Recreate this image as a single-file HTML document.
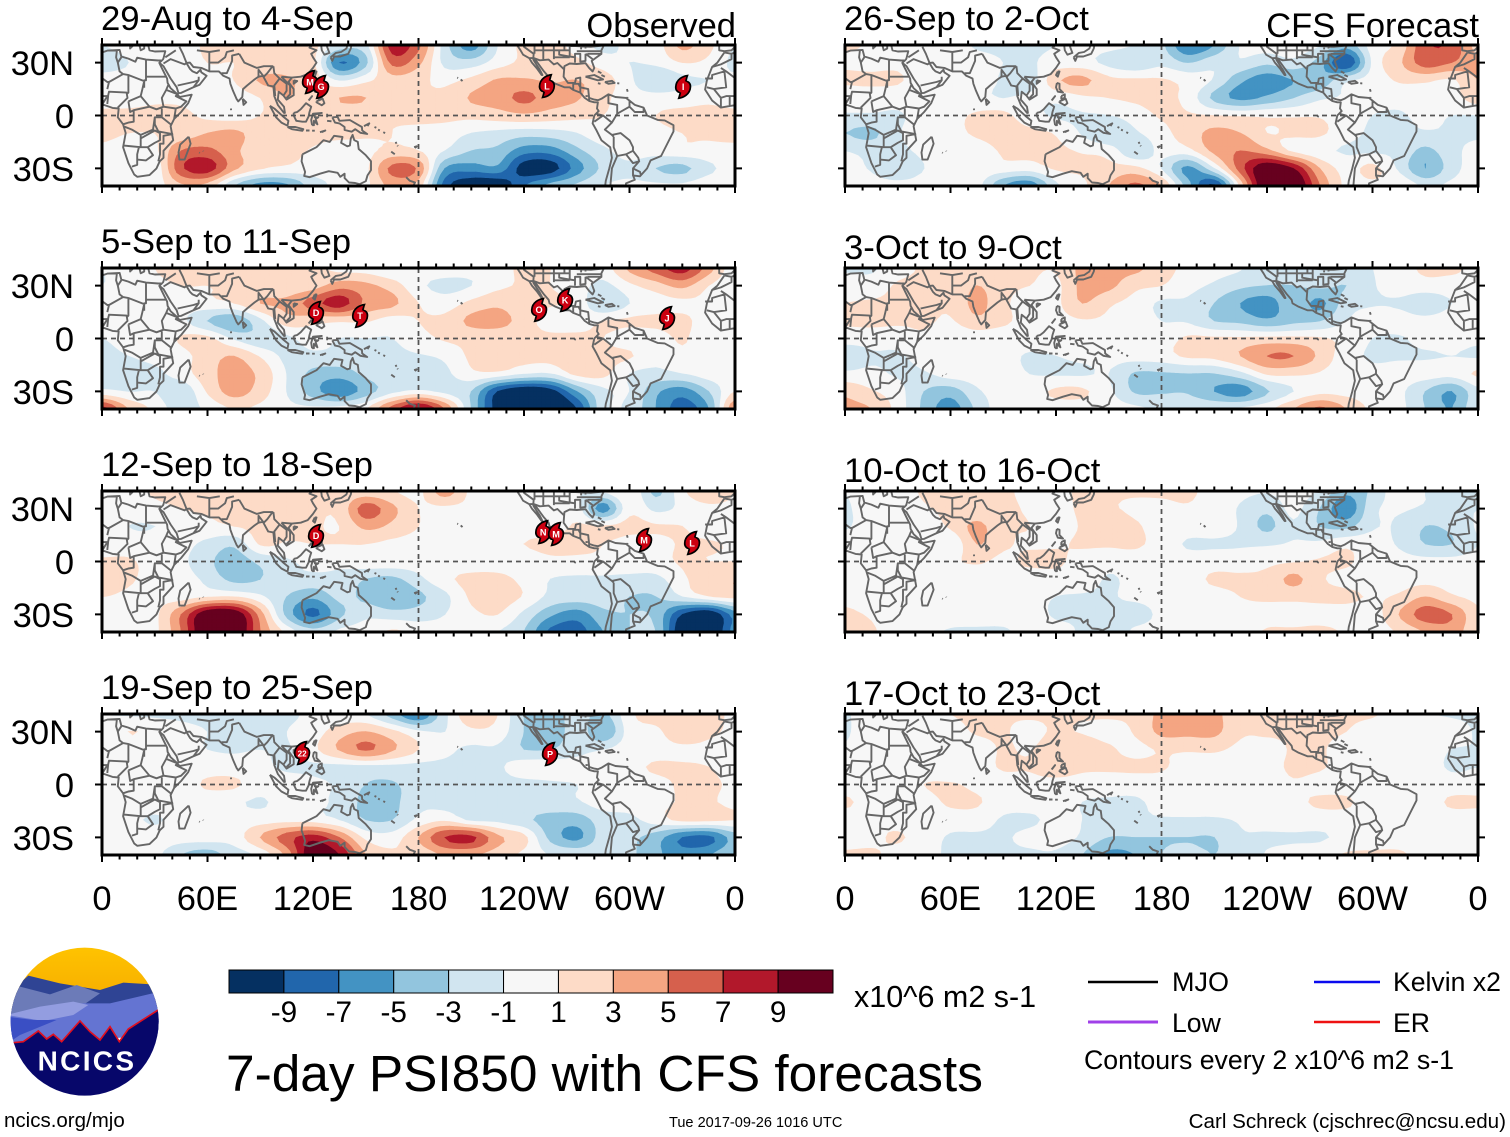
<!DOCTYPE html>
<html lang="en">
<head>
<meta charset="utf-8">
<title>7-day PSI850 with CFS forecasts</title>
<style>
html,body{margin:0;padding:0;background:#fff;}
svg{display:block;font-family:"Liberation Sans",sans-serif;}
text{fill:#000;}
</style>
</head>
<body>
<svg id="chart" xmlns="http://www.w3.org/2000/svg" width="1510" height="1137" viewBox="0 0 1510 1137">
<g id="panels"></g>

<g id="colorbar"></g>
<text x="854" y="1007" font-size="30.5">x10^6 m2 s-1</text>

<text x="226" y="1091" font-size="51.4">7-day PSI850 with CFS forecasts</text>

<g>
<line x1="1088" x2="1158" y1="982" y2="982" stroke="#000" stroke-width="2.5"/>
<text x="1172" y="991" font-size="27">MJO</text>
<line x1="1314" x2="1380" y1="982" y2="982" stroke="#0a0aee" stroke-width="2.5"/>
<text x="1393" y="991" font-size="26.6">Kelvin x2</text>
<line x1="1088" x2="1158" y1="1022" y2="1022" stroke="#a040e8" stroke-width="3"/>
<text x="1172" y="1032" font-size="26.6">Low</text>
<line x1="1314" x2="1380" y1="1022" y2="1022" stroke="#ee1111" stroke-width="2.5"/>
<text x="1393" y="1032" font-size="26.6">ER</text>
<text x="1084" y="1069" font-size="26.7">Contours every 2 x10^6 m2 s-1</text>
</g>

<text x="4" y="1127" font-size="20.5">ncics.org/mjo</text>
<text x="669" y="1127" font-size="14.55">Tue 2017-09-26 1016 UTC</text>
<text x="1506" y="1128" font-size="20.6" text-anchor="end">Carl Schreck (cjschrec@ncsu.edu)</text>

<g transform="translate(0,935) scale(0.3333)">
<defs>
<clipPath id="logoClip"><circle cx="254" cy="260" r="222"/></clipPath>
<linearGradient id="sun" x1="0" y1="0" x2="0" y2="1"><stop offset="0" stop-color="#ffc400"/><stop offset="1" stop-color="#f5a800"/></linearGradient>
</defs>
<g clip-path="url(#logoClip)">
<rect x="20" y="30" width="470" height="200" fill="url(#sun)"/>
<path d="M20 180 L85 122 L180 145 L300 165 L370 143 L490 150 L490 300 L20 300Z" fill="#2f4494"/>
<path d="M20 200 L60 155 L150 178 L230 150 L300 175 L250 210 L20 260Z" fill="#6c7bb8"/>
<path d="M240 205 L330 205 L470 172 L490 230 L490 300 L20 330 L20 240Z" fill="#6474d2"/>
<path d="M20 240 L120 215 L220 200 L265 210 L220 240 L130 258 L50 245Z" fill="#939de0"/>
<path d="M20 245 L100 255 L170 255 L60 300 L30 320Z" fill="#3a4fc4"/>
<path d="M20 325 L70 320 L115 288 L140 312 L160 298 L185 320 L240 258 L270 290 L300 315 L330 275 L358 320 L385 282 L490 215 L490 500 L20 500Z" fill="#07076a"/>
<path d="M20 325 L70 320 L115 288 L140 312 L160 298 L185 320 L240 258 L270 290 L300 315 L330 275 L358 320 L385 282 L490 215" fill="none" stroke="#e01020" stroke-width="5"/>
</g>
<text x="261" y="406" font-size="84" font-weight="bold" text-anchor="middle" letter-spacing="7" style="fill:#fff">NCICS</text>
</g>
</svg>

<script>
// ---------- axis definitions ----------
const longitudes = [0,15,30,45,60,75,90,105,120,135,150,165,180,195,210,225,240,255,270,285,300,315,330,345,360];
const latitudes = [40,30,20,10,0,-10,-20,-30,-40];
const xTickLons = [0,60,120,180,240,300,360];
const xTickLabels = ['0','60E','120E','180','120W','60W','0'];
const yTickLats = [30,0,-30];
const yTickLabels = ['30N','0','30S'];
const colorLevels = [-9,-7,-5,-3,-1,1,3,5,7,9];
const bandColors = ['#053061','#2166ac','#4393c3','#92c5de','#d1e5f0','#f7f7f7','#fddbc7','#f4a582','#d6604d','#b2182b','#67001f'];

// ---------- panel titles ----------
const titlesObserved = ['29-Aug to 4-Sep','5-Sep to 11-Sep','12-Sep to 18-Sep','19-Sep to 25-Sep'];
const titlesForecast = ['26-Sep to 2-Oct','3-Oct to 9-Oct','10-Oct to 16-Oct','17-Oct to 23-Oct'];

// ---------- PSI850 anomaly values (x10^6 m2 s-1), rows = latitudes, cols = longitudes ----------
const psiAug29 = [
[-1,-.5,.5,.5,1.2,1.5,1.5,1.5,1.5,-1.5,-1.5,8,5.5,-2,-6,-1,1.5,2,0,-1.5,-.5,0,3.5,1.5,-1],
[-1.5,-1,0,.3,1,1,1.5,2,1.5,-7,-3.5,5.5,3.5,-1.5,-2,0,1.5,2.5,1.5,0,-1,-.5,1,.5,-1.5],
[-.5,-.5,-1,0,.5,1,3.2,3.2,2,-1,.5,2,1.5,.5,1.5,3.2,3.2,2.8,3,2,-.5,-3,-1.5,-1,-.5],
[0,0,.5,.5,0,0,1,3,1.5,3,3,1.2,1.2,1.5,3.2,4,5.5,4,3.2,1.5,0,0,0,.5,0],
[1.5,1.5,1.5,1.5,.5,0,1,1.2,1.5,1.5,1.5,1.2,1.5,1.5,1.5,2,2.5,2,1.5,1,.5,1,1.5,1.5,1.5],
[1.5,1,1,1.5,3,3.5,1.8,1.5,1.5,1.5,1.2,1,.5,0,-1,-1.5,-2,-1.8,-1,.5,.5,.5,1,1.2,1.5],
[.5,0,.5,5,5.5,3.5,1.5,1.5,.8,0,.5,1.5,1,-1,-3,-3.5,-6,-6,-3.5,-1.5,0,0,.5,.5,.5],
[0,0,-.5,6.5,8,3.5,1.2,.5,0,-.5,.5,5.5,4.5,-5,-6,-5.5,-10,-10,-6,-2.5,-1.5,-3,-3.5,-1.5,0],
[0,0,0,2.5,2,-3,-6,-5.5,-2,-.5,.5,3.5,2,-8,-11,-11,-7,-4,-2.5,-1,-.5,-.5,-.5,.5,0]];
const psiSep5 = [
[-1,-.5,1,1.5,1.5,1.5,1.5,1.5,1.5,.3,0,-1,0,0,-.3,0,1.5,1,0,0,3.5,6,8,4,-.5],
[-1,-.5,.5,1,1,1.2,1.5,1.5,2,4,3.5,2,-.5,-1.5,-1,.5,1.2,1,0,-1.5,.5,2,3.5,1,-.5],
[-.5,-.5,0,0,.5,1,3,3.5,6,8,4.5,3.5,1,0,1.5,2.5,1.5,1.2,.5,-3,-1,0,.5,.5,0],
[0,0,0,-.5,-3,-4.5,-1.5,2,1.5,1.2,1.2,0,1,1.5,3.5,3.8,2,0,0,1,1.3,1.5,1.5,0,0],
[-1,-.3,-.3,1.2,1.5,-1.2,-2.5,-1.5,0,-1,-1,-1,.3,1.2,1.5,1.5,1.5,1.5,1.5,1,0,0,1.2,-.5,-1],
[-1.5,-1,-.3,.3,2,3,.8,-1.5,-1.5,-1.5,-2,-1.5,-1.2,-.5,1.3,1.5,1.5,1.6,2,1.5,1.2,-.5,.5,.5,.3],
[-1.5,-2,-1.5,0,2.2,3.8,2.5,-1,-3.5,-4,-2.5,-1.5,-3,-1.5,.5,.5,-.8,-1,1.5,1.5,-1,-1.5,-1,0,0],
[-.5,-1,-1,-2.5,1.2,3.8,2,-1,-4,-6.5,-4,-1.5,-.5,-1.5,-3,-9,-11,-10,-5,-1.5,-1,-4.5,-6,-3,1],
[8,3,.5,-2,-.5,1,.5,-.5,-.5,0,1,6,9.5,5,-3,-10,-12,-12,-9,-1.5,-1.5,-5,-8,-5,5]];
const psiSep12 = [
[.5,.5,1.2,1.5,1.5,1.5,1.5,1.5,1.5,1.5,1.5,1,.5,4,.5,0,0,-.5,-1,-.5,1,-3.5,.5,3,1],
[.3,0,.5,1,1.2,1.2,1.3,1.5,1.3,1.5,6,3.5,1,.5,.5,0,-.3,0,0,-6,.5,-1.5,-.5,.3,.5],
[0,-1,-1,0,.5,1,1.5,1.5,1.2,1,3.5,2.5,1,.2,0,0,0,.2,1.2,1.2,1.5,1.2,1,0,.5],
[.2,0,0,-.3,-1.5,-2.5,1.2,.8,1,1,1,.5,.2,.3,.8,.3,1,1.5,1.5,1,.3,.3,1.2,1.2,.8],
[1.3,1.2,.3,-.5,-2.5,-4,-2.5,-1.3,-.5,-.5,.5,.5,0,0,0,0,0,.5,.5,.5,.2,.3,1.2,1,1],
[3,1.3,.5,0,-1.5,-3.5,-3,-1.5,-1.5,-1.5,-3,-3.5,-1.5,.5,1.5,1.5,.5,-1,-1.3,-1.3,-1.5,-1.5,.5,2.5,3],
[1,.5,.5,0,.8,1,-.5,-3,-4.5,-2.5,-3.5,-5,-3.5,-1.5,1.3,1.8,.8,-1.5,-1.8,-2,-3,-3,-1,.8,1.5],
[0,0,.5,5,11,11,4,-3.5,-7.5,-3.5,-1.5,-2,-2,-1,.5,1,-1.5,-4.5,-6,-3.5,-3,-3.5,-9,-11,-6],
[-1,0,.5,5,12,12,5,.5,-2,-.5,0,1.3,.5,0,-.5,-1,-3,-7.5,-8,-5,-3,-3,-11,-12,-6]];
const psiSep19 = [
[-1,-1.2,-1.3,-1.3,-1.3,-1.5,-1.5,-1.5,-.5,-.5,-1,-4,-7,-1.5,2.5,1,-3,-4,-2,-3.5,.5,2,2,2.5,0],
[-.5,1,.5,-.5,-1,-1.2,-2.5,-1,0,2,3,1.5,-.5,-1,.5,.2,-3,-5,-1.5,-5,0,.5,2.5,1.5,.5],
[0,0,0,-.5,-1,-1.2,-1,-1.2,.5,3.2,5.3,3.3,1,-.5,-1.3,-1.3,-3,-3,-1.5,-1,0,.3,.5,.5,0],
[-.5,0,0,-.2,0,0,-.5,-1.3,-1.3,-1.5,-1.5,-1.5,-1.5,-1.5,-1.5,-1.3,.2,.2,-.3,-.3,.5,1.2,1.2,1,.5],
[-.2,0,0,0,1.3,1.3,0,0,-.5,-1.3,-3,-3.2,-2,-1.6,-1.6,-1.6,-1.6,-1.3,-1,-.5,.2,.5,1.2,1.2,.8],
[1,.3,0,0,-.3,-.7,-1.2,-.3,-.5,-1.5,-3.5,-3.5,-1.5,-1.6,-1.6,-1.6,-1.5,-1.5,-1.2,0,0,.3,1.2,1.2,.5],
[0,-.5,-1.2,-.3,0,-.2,0,.2,0,-1,-3,-3,-.5,.5,-1.3,-1.5,-2.5,-3.8,-4,-2,-1.5,0,1.5,1.5,1],
[0,0,0,0,0,0,3,6,8,5,.5,0,3,7,7.5,3.5,1.5,-3.5,-5.5,-2,-2.5,-4,-7,-7.5,-4],
[-.5,-1,-.5,-3,-4,-2,-.5,3.5,11,9,3,1.3,1.5,3,3,2,.5,-1,-1.2,-1.5,-2.5,-4.5,-6,-5,-3]];
const psiSep26 = [
[1.2,.8,-.3,0,-.2,-1.2,-1.3,-1.2,-1,-.5,-.5,-1,-2.5,-7,-5,-.8,0,0,-.8,-4,0,1.5,6.5,6.5,2],
[.8,.5,.5,0,-.2,-.3,-1,-1.2,-.3,-.3,-1.5,-2.5,-1.5,-3,-1.5,-1.3,-2.5,-1.5,-4,-9,-.5,2.5,6,5,3.5],
[1.2,1.3,1.2,0,-.2,-.2,-1.2,-2,2.5,3.5,1.5,1.3,1.2,.3,-1.2,-4.5,-6,-5,-4.5,-1.3,-.2,1.2,1.3,.7,3],
[0,0,-.2,0,-.2,-.5,-1,-.5,-.5,.5,1,1.3,1.5,.3,-3.5,-5.5,-4.5,-3,-1.3,-.8,-.3,-.3,0,.3,2],
[-1.2,-1.2,-1.2,-.2,.3,1.3,1.5,-.3,-1.2,-1.2,-1,0,1.2,1.2,1,.8,.8,.8,.8,0,-1,-1.2,-.5,-1,-1],
[-3,-3.5,-1.2,-.2,.3,1.3,1.8,1.5,.8,-1.2,-3,-1.3,.3,2,3.5,3,1,1.3,1.3,-.2,-1.3,-1.5,-1.2,-1.2,-1.2],
[-1,-1.5,-1.5,-.5,-.3,0,1.2,1.3,1.3,.8,.2,-2.5,-.3,.3,3.5,5,3.5,.5,-.5,-1.2,-1.3,-1.5,-3.5,-1.5,-.5],
[-.3,-1.2,-3,-1,-.3,.2,.2,0,1.2,1.3,1.5,1.5,-1,-5.5,-1,6,11,9,3,.3,1.5,-1.3,-5,-1.8,0],
[0,0,0,0,0,-.3,-5,-6.5,-1.5,.5,3,5.5,3,-4,-9.5,1.5,12,12,5,.5,.5,1,-1.2,-.5,0]];
const psiOct3 = [
[-1.3,-1.3,.2,1.2,1.2,1.2,1,1.2,1.2,3.5,3.5,3.5,1.8,.5,-.2,-.8,-2.5,-1.5,-2,-1.5,-1,.2,1.3,1.3,.5],
[.3,0,1.2,1.3,1.3,3,1.5,1,.5,3.5,3.5,1.5,1,-.3,-1.3,-2.5,-3,-3,-2.5,-3,-1.2,.1,.3,.3,1],
[1,1.2,1.3,1.3,1.3,3.5,1.5,-.2,.5,3,1.3,.3,-1.3,-1.3,-3,-5,-6,-3.5,-5.5,-2,-1.2,-1.3,-2.5,-1,.5],
[1.2,1.5,1.3,1.3,.8,2.5,1.5,0,.3,.8,.7,.3,-1,-1.2,-3,-3.5,-4.5,-3.5,-3,-1,0,0,-.3,.3,1],
[0,-.2,-.2,.6,-.5,-.3,-.5,0,.2,.5,.5,0,0,1.3,1.3,1.3,1.5,1.5,1.2,.4,-1,-1.2,-.3,-.2,-.5],
[-2.5,-1.2,-1.2,-.3,0,.3,-.3,-1.2,-1,-.5,-.3,-.1,.2,1.3,1.5,3,5,5,2.5,-.2,-1.2,-1.2,-1.2,-1,-1.2],
[-.5,-.5,-1.2,-1.2,0,0,-.2,-1,-1.2,-1.2,-1,-3.2,-3.2,-3,-3,-1.5,1.2,1.3,.8,-.2,-.5,-.2,0,-.2,1.3],
[2.5,1.2,-.2,-3,-4,-1.3,-.2,.1,1.3,1.3,-.5,-3.2,-3.2,-3.2,-5,-6,-3.2,-1,.3,.2,-.2,-.5,-3,-5,-1.5],
[3.5,3,.2,-3.5,-6,-2.5,.2,0,0,0,0,-.5,-1.2,-1.2,-1,-.5,.5,3,5.5,3,.5,-.3,-3,-5,-1]];
const psiOct10 = [
[-1,0,.2,1.2,1.3,1.3,1.3,.5,.5,1.3,1.3,1.3,1.3,1.3,.3,-.5,-.8,-.3,-1.2,-4.5,-2.5,.2,-1,-1.2,-1.2],
[-1.2,-.2,0,.8,1.3,1.3,1.3,.8,.3,1.3,1.3,.5,.5,.8,.2,-1.2,-2.5,-.5,-3,-6.5,-1.5,-.8,-1.2,-1.2,-1],
[-1.2,-.1,0,0,1.3,3.5,1.3,1,.3,1.2,2.8,1.3,.3,.1,0,-1.2,-3.5,-1.2,-3,-3.5,-1.2,-1.2,-3,-2.5,-.8],
[0,0,0,0,-.8,3,1.3,.8,.8,1.2,1.3,1.3,.2,-1.2,-1.2,-1.2,-1.2,-.8,-.5,.5,-.2,-1.2,-3,-3,-1],
[.2,0,0,.8,.8,1.2,.6,1.3,1.3,.3,-.2,0,0,0,.1,.1,.5,.8,1.2,1.3,0,-.2,-.3,-.3,-.2],
[0,0,0,0,0,.2,1,.1,.2,.2,-1.2,-.3,0,.2,1.3,1.3,1.5,3.5,1.3,.3,-.1,0,.2,.1,0],
[.5,0,0,0,0,0,-.1,-.3,-1,-1.2,-1.2,-.5,-.1,0,.2,1,1.3,1.5,1.5,1.5,.8,1.3,3,1.3,.5],
[1.3,.8,0,0,0,0,0,-.2,-1.2,-1.2,-1.3,-2,-.5,-.4,.1,.3,.2,0,.1,0,0,3,6,5,1.3],
[1.3,1.2,0,-.5,-1.2,-1.3,-1.3,-.3,-.3,-1.3,-2.8,-.5,-.3,-.1,0,.1,1.2,1.3,1.5,.8,0,1.2,3,4,1.3]];
const psiOct17 = [
[-1.2,0,0,.2,1,1.3,1.2,1.3,1.3,1.3,1.3,1.5,3.5,3.5,3.5,1.5,1.3,1.3,1.3,1.3,1.2,.2,-.8,-1.2,-1.3],
[-1.2,0,0,0,.2,1.2,1.2,.3,1.3,.8,.2,1.2,3.5,3.5,3.5,1.3,1.3,1.3,1.3,1,0,0,0,-.1,-1.2],
[-.8,0,0,-.1,0,0,1.2,.8,2.5,2.5,1.3,.5,1.2,1.2,1.3,.5,.2,1.2,1.2,.2,0,0,0,-1,-1],
[0,0,0,0,-.8,.1,1.2,1.2,2.5,1.5,1.3,1.3,1.2,.2,0,0,.3,1.3,1.2,.2,-.1,-.1,-.2,-1.2,-1],
[0,0,0,1,1.2,.5,.1,.2,0,-.1,-.1,0,.2,0,0,0,0,.8,.3,0,0,0,0,-.1,0],
[1.3,.2,0,.2,1.3,1.2,-.1,-.1,-.2,-1,-1.2,-1.3,-.3,0,0,0,0,.5,1.3,1.3,0,0,0,1.3,1.3],
[0,.8,.3,0,0,0,-1.2,-1.3,-.5,-1,-1.2,-1.3,-1.2,-1.2,-1.2,-.8,-.1,0,0,0,0,0,0,0,0],
[0,.5,1.2,0,-1.2,-1.3,-1.2,-.5,-.1,-1.3,-3,-3,-3,-3,-3,-1.3,-1.3,-1.2,-1.2,-.5,-.1,0,0,0,0],
[1.3,1.3,.3,-.5,-1.2,-1.3,-1.3,-1.3,-1.3,-3,-5.5,-5,-3,-2.5,-3,-2.5,-.8,-.3,.2,1.2,1.3,1.3,.3,0,0]];

// ---------- tropical cyclones: [label, longitude, latitude] ----------
const stormsAug29 = [['M',118.3,19],['G',124.6,16.2],['L',253,16.7],['I',330.5,16.2]];
const stormsSep5 = [['D',121.7,14.5],['T',146.8,12.8],['O',248.6,16.2],['K',263.4,21.8],['J',321.4,11.6]];
const stormsSep12 = [['D',121.7,14.5],['N',250.9,16.7],['M',258.2,15.6],['M',308.3,12.2],['L',335.6,10.5]];
const stormsSep19 = [['22',113.8,17.9],['P',254.8,17.3]];

// ---------- geography (lon, lat pairs) ----------
const coastlines = [
[-6,35.8,-2,35,3,36.8,10,37.2,11,33.5,15,32.3,19,30.5,20,32.8,25,31.7,32,31.2,34.2,31.3,32.6,29.9,33.5,28,35.5,24,37,21,37.3,18.5,39,15.5,43,12,44,10.5,51,11.8,49,7,45,2,41,-2,39,-6,40.5,-14,35,-20,35,-24,32.8,-26,31,-30,27,-33.8,20,-34.8,18.3,-33.5,15,-27,12,-18,13.5,-10,12,-5,9,-1,9.5,4,6,4.3,1,6,-4,5.2,-8,4.5,-13,8.5,-17,14.7,-16,20,-13,27.5,-10,30,-6,35.8],
[49.3,-12,50.4,-16,47,-25,44,-25,43.5,-21,44.5,-16.5,49.3,-12],
[-9,41,-9,37,-6,36.5,-2,37,0,39,0,41],[16,41,16,38,18,40],[21,41,22,37,24,38,24,41],
[26,41,27,37,30,36.3,36,36.5,35,32.5,34.5,31.5],
[32.5,30,35,28,39,21,42.5,16,43.5,12.7,45,12.8,52,16,55.5,17.5,59.5,22.5,56.5,24.5,56,26,54,24,51.5,25,50,26.5,48,29.8,50,30,52,27.5,56.5,27,61,25,66.5,25,67.5,24,69,22.5,72.5,21,73,18,74.5,14,76.5,9.5,77.5,8,79.8,10.5,80.2,15,82.5,17,86.8,20.5,89,22,91.5,22.5,94.5,17,97.5,16.5,98,11,100,6,103.5,1.5,104,1.5,103.5,5,100,9,100.5,13.5,103,11.5,105,9,109,11.5,109,15,106,19,108,21.5,113,22,117,23.5,120,27,122,30,120,33,119,35,122,37,118,38.5,121,41],
[124.5,41,125,37,126.5,34.5,129.3,35.5,128,39,129,41],
[130,33,131,31,132,33.5,135.5,33.5,140,35,141.5,38,142,41,140,41,139,38,136,36,133,35.5,130,33],
[121,25,122,25,121,22,120,23,121,25],[109,20,111,19.5,109,18,109,20],[80,9.5,82,7.5,80.5,6,80,9.5],
[120.5,18.5,122,18,122,15,124,13,121,13.5,120,16,120.5,18.5],[122,8,125.5,9.5,126.5,7,125,5.8,122,7.5,122,8],[117.5,8.5,119.5,11,118,9,117.5,8.5],[123,11,125,12,125,10,123,9.5,123,11],
[109,1.5,111,2,113,3.5,116,7,119,5,118,2,117.5,-.5,116,-3.5,114,-3.5,110.5,-3,109,0,109,1.5],
[95.5,5.5,98,4,103.5,-1,106,-3,105.5,-5.8,102,-4,99,-1,95.5,5.5],
[105.5,-6.5,110,-6.5,114.5,-7.8,114,-8.7,108,-7.8,105.5,-6.5],
[119.5,-5.5,119,-2.5,120,1,125,1.5,121,.5,121,-1,123,-1,121.5,-2,122.5,-5,120.5,-3,120.5,-5.5,119.5,-5.5],
[131,-1,134,-.8,135,-3,141,-2.6,146,-5.5,147.8,-6.5,148,-8.5,150.8,-10.5,147,-9.8,144,-7.8,142,-9.2,138,-8.2,138,-6.5,135,-4.5,132.5,-4,131,-1],
[116,-8.5,118,-8.5],[119.5,-8.6,121,-8.6],[124,-9.5,127,-8.5,125,-9.5],[128,1,128,-1],[128,-3,130.5,-3.3],[149,-6,152,-4.5,151,-6],[155,-6.5,156,-7],[157,-8,158,-8.5],[160,-9.5,161,-10],[167,-15,167.5,-16],[168,-17,168.3,-17.5],[164.5,-20.5,166.5,-22],[177.5,-18,179,-17.5,178,-18.5],
[173,-35,175,-37,178,-38,177,-40,174,-40.5],[172,-41,174,-40.5],
[114,-22,113.5,-26,115.5,-32,115,-34.3,118,-35,124,-33,129,-31.6,134,-32.5,135.5,-34.8,138,-33,138,-35.5,140.5,-38,144,-38.3,146.5,-39,150,-37.3,151,-34,153,-31,153,-26,150,-22.5,146,-19,145.5,-15,143.5,-14,142.5,-11,141.5,-13,141,-17,139.5,-17.5,136,-15.5,136.8,-12.2,132,-11.5,129.5,-15,126,-14,122,-18,117,-20.5,114,-22],
[-124.3,41,-124,40,-122,37,-120.5,34.5,-117,32.5,-115.5,30,-112.5,26.5,-110,23,-109.5,23,-111,26,-113,29,-114.7,31.7,-113,31,-110.5,27.5,-109,25.5,-106,22,-105.5,20,-102,18,-97,16,-94,16,-92,14.5,-88,13,-85.5,10,-83,8.3,-80,7.5,-78,7.5,-78.5,4,-77.5,2.5,-80,0,-81,-4.5,-79,-8,-76,-14,-71,-18,-70,-24,-71.5,-30,-73.5,-37,-74,-41],
[-62,-41,-62,-38.5,-57,-36.5,-58,-34,-54,-34.5,-50,-30,-48,-25.5,-42,-23,-39,-17,-35,-9,-35,-5.5,-40,-2.8,-44,-2.5,-50,0,-52,4.5,-57,6,-62,10,-68,10.5,-72,12,-76,9.5,-78,8.7,-80,9,-83,10,-83.5,15,-88,16,-88,21.5,-90.5,21,-91,18.5,-95,18.5,-97.5,22,-97,28,-94,29.5,-90,29.2,-85,29.7,-83,27,-81,25,-80,27,-81.5,31,-76,35,-76,37,-74,41],
[-85,22,-80,23,-75,20.5,-78,20,-85,22],[-74,19,-70,19.7,-68.5,18.5,-72,18,-74,19],[-78,18.3,-76.5,18],[-67,18.3,-65.8,18.2],[-78,25,-76,24],[-76,23,-74,22],
[-156,20.5,-155,19.5],[-158,21.5,-157.5,21.3],[-91.5,-.3,-90.5,-.7],[57.5,-20,57.6,-20.3],[55.3,-21,55.6,-21.2],[73.3,4,73.4,3],[-61.5,15,-61,13.5],[-61,10.5,-61.2,10.1]
];
const borders = [
[-2,35,-2,32,-8,29,-13,27.5],[-8,27,-5,25,3,19,4,19,12,23.5],[9,30,10,25,12,23.5],[8.5,37,8,33,9,30,11,33],[25,31.7,25,20,24,20,24,15.7],[12,23.5,15,23,24,19.5],[25,22,36.5,22],
[-17,21,-13,21,-13,23,-6,25,-5,16,-12,15,-16,16],[3,15,4,19],[15,23,15,13,14,12],[3,6.5,3.5,11.5,4,13.5,14,13,14.5,10,9,4.5],[24,19.5,23,15,22,11,15,8],
[22,11,27,5,31,3.5,35,5,34,10,36.5,14.5,38,18],[36.5,14.5,43,12,42,11,48,8,45,5,42,4,35,5],[42,4,41,-2],[34,4,34,-1,39,-5],[34,-1,30,-1,30,-5,32,-9,40,-10.5],
[12,-5,15,-4,18,-3.5,18,3,16,2,15,8],[18,3,27,5],[30,-1,29,-8,22,-11,22,-13],[12,-6,17,-8,22,-11,22,-18,12,-17],[22,-18,21,-18,20,-22,20,-28,17,-29],[20,-22,20,-25,25,-25.5,29,-22.5,26,-18,22,-18],[22,-13,30,-8.5,33,-10,33,-14,30,-15.5,26,-18],[40.5,-10.5,35,-11.5,35,-16,33,-16,33,-22,32,-26],
[-8,4.5,-8,10,-5,11,3,11,0,6],[-12,15,-8,10],[-3,5,-3,11],
[35,29.5,39,32,47,29,48,29.8],[36,33,42,37],[48,30,46,35,44,39],[43,17,52,19,55,20,52,16],[55,22,55,20,52,19],[61,25,61,30,61,36,67,37],[68,24,71,24,74,31,74,34,78,35],[61,30,66,30,70,33,71,36,75,37],[54,37,61,36],[78,35,81,30,88,27,92,28,97,28,94,24,92,22,89,26,89,22],[97.5,28,98,24,101,21,98,17,98.5,11],[101,21,105,18,105,14,103,11],[102,22,107,17,107,12,105,10],[102,22,108,21.5],[74,40,80,41],
[-117,32.5,-114.7,32.7,-111,31.3,-106,31.7,-103,29,-101,29.8,-97,26],[-92,14.5,-92,18,-89,18,-88,16],[-88,13,-88,16],[-85,11,-83.7,11],[-83,8.3,-83,10],
[-120,41,-120,39,-114.5,35,-114.7,32.7],[-114,41,-114,35],[-109,41,-109,31.3],[-103,41,-103,32],[-94,41,-94,33.5],[-114,37,-94,37],[-103,33,-94,33],[-102,40,-82,39,-75,39.7],[-90,36.5,-75.5,36.5],[-85,35,-85,31,-88,30.5,-88,35,-91,35,-91,30],[-81,32,-85,35],[-84,35,-75.5,35],[-94,33.5,-91,33],[-97,41,-97,37],[-100,37,-100,34.5,-94,33.5],[-87.5,41,-87.5,37.5],[-85,41,-85,38],
[-72,12,-72,7,-67,6,-67,1],[-79,1,-75,0,-70,-4,-67,1],[-80,-3.5,-75,0],[-70,-4,-74,-8,-70,-11,-69,-12],[-70,-11,-65,-10,-60,-14,-58,-18,-58,-20,-62,-22,-67,-23,-69,-18,-69,-12],[-67,-23,-70,-30,-71,-41],[-58,-20,-55,-24,-54.5,-26,-58,-27,-62,-22],[-58,-34,-58,-30,-54,-32,-53.5,-34],[-54.5,-26,-58,-30],[-60,8.5,-60,5,-57,2,-52,2,-52,4.5],[-67,1,-60,5]
];

// ---------- panel layout ----------
const MAPW = 633, MAPH = 141;
const columnLeft = [102, 845];
const rowTop = [45, 268, 491, 714];
const observedGrids = [psiAug29, psiSep5, psiSep12, psiSep19];
const forecastGrids = [psiSep26, psiOct3, psiOct10, psiOct17];
const observedStorms = [stormsAug29, stormsSep5, stormsSep12, stormsSep19];
const titleBaselineObserved = [30, 253, 476, 699];
const titleBaselineForecast = [30, 259, 482, 705];

const NS = 'http://www.w3.org/2000/svg';
function mk(tag, attrs, parent){
  const el = document.createElementNS(NS, tag);
  for (const k in attrs) el.setAttribute(k, attrs[k]);
  if (parent) parent.appendChild(el);
  return el;
}
function catmull(p0,p1,p2,p3,t){
  return 0.5*((2*p1)+(-p0+p2)*t+(2*p0-5*p1+4*p2-p3)*t*t+(-p0+3*p1-3*p2+p3)*t*t*t);
}
function sampleGrid(g, r, c){
  const nr = g.length, nc = g[0].length;
  const r1 = Math.min(Math.floor(r), nr-2), c1 = Math.min(Math.floor(c), nc-2);
  const tr = r-r1, tc = c-c1;
  const vals = [];
  for (let i=-1;i<=2;i++){
    const row = g[Math.max(0,Math.min(nr-1,r1+i))];
    vals.push(catmull(row[Math.max(0,c1-1)],row[c1],row[c1+1],row[Math.min(nc-1,c1+2)],tc));
  }
  return catmull(vals[0],vals[1],vals[2],vals[3],tr);
}
// Filled region path where sign*(v - threshold) > 0, built by clipping each fine-grid cell
function regionPath(field, nx, ny, threshold, sign, x0, y0, dx, dy){
  const out = [];
  const f = (j,i)=> sign*(field[j][i]-threshold);
  for (let j=0;j<ny-1;j++){
    for (let i=0;i<nx-1;i++){
      const cs = [[i,j,f(j,i)],[i+1,j,f(j,i+1)],[i+1,j+1,f(j+1,i+1)],[i,j+1,f(j+1,i)]];
      if (cs.every(a=>a[2]<=0)) continue;
      const pts = [];
      for (let k=0;k<4;k++){
        const a = cs[k], b = cs[(k+1)%4];
        if (a[2]>0) pts.push([a[0],a[1]]);
        if ((a[2]>0)!==(b[2]>0)){
          const t = a[2]/(a[2]-b[2]);
          pts.push([a[0]+(b[0]-a[0])*t,a[1]+(b[1]-a[1])*t]);
        }
      }
      out.push('M'+pts.map(p=>(x0+p[0]*dx).toFixed(1)+' '+(y0+p[1]*dy).toFixed(1)).join('L')+'Z');
    }
  }
  return out.join('');
}
function geoPath(lines, xOf, yOf){
  let d = '';
  for (const shift of [0,360]){
    for (const ln of lines){
      d += 'M';
      for (let i=0;i<ln.length;i+=2){
        d += (i?'L':'')+xOf(ln[i]+shift).toFixed(1)+' '+yOf(ln[i+1]).toFixed(1);
      }
    }
  }
  return d;
}
const root = document.getElementById('panels');
function drawPanel(left, top, grid, storms, title, titleY, idx, tag, showY, showX, sideLabel){
  const xOf = lon => left + (lon/360)*MAPW;
  const yOf = lat => top + ((40-lat)/80)*MAPH;
  const g = mk('g',{},root);
  
  
  const clip = mk('clipPath',{id:'clip-'+tag},g);
  mk('rect',{x:left,y:top,width:MAPW,height:MAPH},clip);
  const map = mk('g',{'clip-path':'url(#clip-'+tag+')'},g);
  const bg = mk('rect',{x:left,y:top,width:MAPW,height:MAPH,fill:bandColors[5]},map);
  
  
  // fine field
  const sub = 6, subR = 4;
  const nx = (longitudes.length-1)*sub+1, ny = (latitudes.length-1)*subR+1;
  const field = [];
  for (let j=0;j<ny;j++){
    const row = [];
    for (let i=0;i<nx;i++) row.push(sampleGrid(grid,j/subR,i/sub));
    field.push(row);
  }
  const dx = MAPW/(nx-1), dy = MAPH/(ny-1);
  for (let k=5;k<colorLevels.length;k++){
    const col = bandColors[k+1];
    const d = regionPath(field,nx,ny,colorLevels[k],1,left,top,dx,dy);
    if (!d) continue;
    const p = mk('path',{d:d,fill:col,stroke:col,'stroke-width':0.6},map);
    
    
  }
  for (let k=4;k>=0;k--){
    const col = bandColors[k];
    const d = regionPath(field,nx,ny,colorLevels[k],-1,left,top,dx,dy);
    if (!d) continue;
    const p = mk('path',{d:d,fill:col,stroke:col,'stroke-width':0.6},map);
    
    
  }
  // land
  const land = mk('path',{d:geoPath(coastlines.concat(borders),xOf,yOf),fill:'none',stroke:'#666','stroke-width':1.9,'stroke-linejoin':'round'},map);
  
  
  // reference lines
  const eq = mk('line',{x1:left,x2:left+MAPW,y1:yOf(0),y2:yOf(0),stroke:'#555','stroke-width':1.8,'stroke-dasharray':'5 4'},map);
  
  
  const dl = mk('line',{x1:xOf(180),x2:xOf(180),y1:top,y2:top+MAPH,stroke:'#555','stroke-width':1.8,'stroke-dasharray':'5 4'},map);
  
  
  // storms
  for (const s of storms){
    const sg = mk('g',{transform:'translate('+xOf(s[1]).toFixed(1)+','+yOf(s[2]).toFixed(1)+') scale(1.08)'},g);
    
    
    mk('path',{d:'M4 -10.5C0 -10 -6.5 -7 -6.8 0C-7 3 -5 5 -3 5L2 -4C3 -6 3 -8 4 -10.5Z',fill:'#cc0010',stroke:'#000','stroke-width':1.6},sg);
    mk('path',{d:'M-4 10.5C0 10 6.5 7 6.8 0C7 -3 5 -5 3 -5L-2 4C-3 6 -3 8 -4 10.5Z',fill:'#cc0010',stroke:'#000','stroke-width':1.6},sg);
    mk('circle',{r:5.6,fill:'#cc0010'},sg);
    const st = mk('text',{y:3,'text-anchor':'middle','font-size':s[0].length>1?7.5:8.5,'font-weight':'bold',style:'fill:#fff'},sg);
    st.textContent = s[0];
  }
  // frame
  const fr = mk('rect',{x:left,y:top,width:MAPW,height:MAPH,fill:'none',stroke:'#000','stroke-width':3},g);
  
  
  // ticks
  let td = '';
  for (let lon=0;lon<=360;lon+=10){
    const len = lon%60===0?6:3.5, x = xOf(lon).toFixed(1);
    td += 'M'+x+' '+(top-1)+'V'+(top-1-len)+'M'+x+' '+(top+MAPH+1)+'V'+(top+MAPH+1+len);
  }
  for (const lat of yTickLats){
    const y = yOf(lat).toFixed(1);
    td += 'M'+(left-1)+' '+y+'H'+(left-7)+'M'+(left+MAPW+1)+' '+y+'H'+(left+MAPW+7);
  }
  const ticks = mk('path',{d:td,stroke:'#000','stroke-width':2,fill:'none'},g);
  
  
  // labels
  const tt = mk('text',{x:left-1,y:titleY,'font-size':34.7},g);
  tt.textContent = title;
  
  
  if (sideLabel){
    const sl = mk('text',{x:left+MAPW+1,y:top-8,'font-size':34.5,'text-anchor':'end'},g);
    sl.textContent = sideLabel;
    
    
  }
  if (showY){
    yTickLats.forEach((lat,i)=>{
      const yl = mk('text',{x:74,y:yOf(lat)+12.5,'font-size':34.5,'text-anchor':'end'},g);
      yl.textContent = yTickLabels[i];
      
      
    });
  }
  if (showX){
    xTickLons.forEach((lon,i)=>{
      const xl = mk('text',{x:xOf(lon),y:910,'font-size':34.5,'text-anchor':'middle'},g);
      xl.textContent = xTickLabels[i];
      
      
    });
  }
}
rowTop.forEach((top,i)=>{
  drawPanel(columnLeft[0],top,observedGrids[i],observedStorms[i],titlesObserved[i],titleBaselineObserved[i],i,'observed-'+i,true,i===3,i===0?'Observed':'');
  drawPanel(columnLeft[1],top,forecastGrids[i],[],titlesForecast[i],titleBaselineForecast[i],i,'forecast-'+i,false,i===3,i===0?'CFS Forecast':'');
});

// ---------- colorbar ----------
const cb = document.getElementById('colorbar');
const cbLeft = 229, cbRight = 833, cbTop = 970, cbH = 23;
const cbW = (cbRight-cbLeft)/bandColors.length;
bandColors.forEach((col,i)=>{
  const r = mk('rect',{x:cbLeft+i*cbW,y:cbTop,width:cbW,height:cbH,fill:col,stroke:'#000','stroke-width':1},cb);
  
  
});
colorLevels.forEach((lv,i)=>{
  const t = mk('text',{x:cbLeft+(i+1)*cbW,y:1022,'font-size':29.7,'text-anchor':'middle'},cb);
  t.textContent = String(lv);
  
  
});
</script>
</body>
</html>
